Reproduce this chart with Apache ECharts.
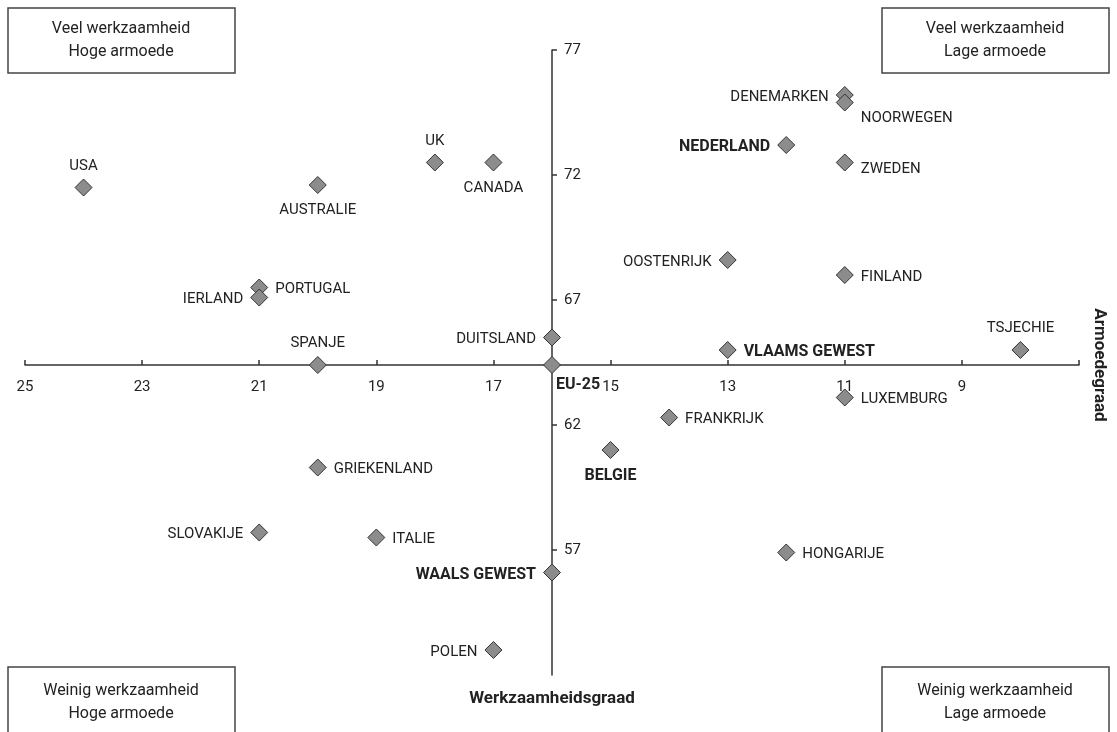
<!DOCTYPE html>
<html>
<head>
<meta charset="utf-8">
<script src="https://cdn.jsdelivr.net/npm/echarts@6/dist/echarts.min.js"></script>
<style>
  html, body { margin: 0; padding: 0; background: #fff; }
  #chart { width: 1117px; height: 732px; }
</style>
</head>
<body>
<div id="chart"></div>
<script>
// landen / regio's met armoedegraad (x) en werkzaamheidsgraad (y)
var countries = ['USA', 'AUSTRALIE', 'UK', 'CANADA', 'PORTUGAL', 'IERLAND', 'SPANJE', 'DUITSLAND',
  'EU-25', 'GRIEKENLAND', 'SLOVAKIJE', 'ITALIE', 'WAALS GEWEST', 'POLEN', 'DENEMARKEN', 'NOORWEGEN',
  'NEDERLAND', 'ZWEDEN', 'OOSTENRIJK', 'FINLAND', 'TSJECHIE', 'VLAAMS GEWEST', 'LUXEMBURG',
  'FRANKRIJK', 'BELGIE', 'HONGARIJE'];
var poverty = [24, 20, 18, 17, 21, 21, 20, 16,
  16, 20, 21, 19, 16, 17, 11, 11,
  12, 11, 13, 11, 8, 13, 11,
  14, 15, 12];
var employment = [71.5, 71.6, 72.5, 72.5, 67.5, 67.1, 64.4, 65.5,
  64.4, 60.3, 57.7, 57.5, 56.1, 53.0, 75.2, 74.9,
  73.2, 72.5, 68.6, 68.0, 65.0, 65.0, 63.1,
  62.3, 61.0, 56.9];
var highlighted = ['NEDERLAND', 'VLAAMS GEWEST', 'EU-25', 'BELGIE', 'WAALS GEWEST'];

var xTicks = [25, 23, 21, 19, 17, 15, 13, 11, 9, 7];
var xLabels = [25, 23, 21, 19, 17, 15, 13, 11, 9];
var yTicks = [57, 62, 67, 72, 77];

// waar het label naast het punt staat (standaard rechts)
var labelSide = {
  'USA': 'top', 'UK': 'top', 'SPANJE': 'top', 'TSJECHIE': 'top',
  'AUSTRALIE': 'bottom', 'CANADA': 'bottom', 'BELGIE': 'bottom', 'EU-25': 'bottom',
  'IERLAND': 'left', 'DUITSLAND': 'left', 'SLOVAKIJE': 'left', 'WAALS GEWEST': 'left',
  'POLEN': 'left', 'DENEMARKEN': 'left', 'NEDERLAND': 'left', 'OOSTENRIJK': 'left'
};
var labelShift = { 'NOORWEGEN': [0, 16], 'ZWEDEN': [0, 7], 'EU-25': [26, -4] };

var FONT = 'Roboto, sans-serif';

// grid geometrie
var W = 1117, H = 732;
var gLeft = 25, gRight = 38, gTop = 50, gBottom = 57;
var xMin = 7, xMax = 25, yMin = 52, yMax = 77;
var crossX = 16, crossY = 64.4;
var gW = W - gLeft - gRight, gH = H - gTop - gBottom;

var points = countries.map(function (name, i) {
  var bold = highlighted.indexOf(name) >= 0;
  return {
    name: name,
    value: [poverty[i], employment[i]],
    label: {
      position: labelSide[name] || 'right',
      offset: labelShift[name] || [0, 2],
      fontWeight: bold ? 'bold' : 'normal',
      fontSize: bold ? 16 : 15
    }
  };
});

function box(x, y, h, text, ty) {
  return [
    { type: 'rect', shape: { x: x, y: y, width: 227, height: h },
      style: { fill: '#fff', stroke: '#444', lineWidth: 1.5 } },
    { type: 'text', x: x + 113, y: ty,
      style: { text: text, font: '16px ' + FONT, fill: '#222', align: 'center',
        verticalAlign: 'middle', lineHeight: 23 } }
  ];
}

var chart = echarts.init(document.getElementById('chart'));
var option = {
  animation: false,
  grid: { left: gLeft, right: gRight, top: gTop, bottom: gBottom, outerBoundsMode: 'none' },
  xAxis: {
    type: 'value', min: xMin, max: xMax, inverse: true,
    position: 'bottom',
    offset: -gH * (crossY - yMin) / (yMax - yMin),
    name: 'Armoedegraad', nameLocation: 'start', nameRotate: -90, nameGap: 12,
    nameTextStyle: { fontFamily: FONT, fontWeight: 'bold', fontSize: 17, color: '#222' },
    axisLine: { onZero: false, lineStyle: { color: '#333', width: 1.5 } },
    axisTick: { inside: true, length: 5, customValues: xTicks, lineStyle: { color: '#333', width: 1.5 } },
    axisLabel: { customValues: xLabels, margin: 15, fontFamily: FONT, fontSize: 15, color: '#222' },
    splitLine: { show: false }
  },
  yAxis: {
    type: 'value', min: yMin, max: yMax,
    position: 'left',
    offset: -gW * (xMax - crossX) / (xMax - xMin),
    name: 'Werkzaamheidsgraad', nameLocation: 'start', nameGap: 15,
    nameTextStyle: { fontFamily: FONT, fontWeight: 'bold', fontSize: 17, color: '#222' },
    axisLine: { onZero: false, lineStyle: { color: '#333', width: 1.5 } },
    axisTick: { inside: true, length: 5, customValues: yTicks, lineStyle: { color: '#333', width: 1.5 } },
    axisLabel: { inside: true, customValues: yTicks, margin: 12, fontFamily: FONT, fontSize: 15, color: '#222' },
    splitLine: { show: false }
  },
  graphic: [].concat(
    box(8, 8, 65, 'Veel werkzaamheid\nHoge armoede', 40),
    box(882, 8, 65, 'Veel werkzaamheid\nLage armoede', 40),
    box(8, 667, 80, 'Weinig werkzaamheid\nHoge armoede', 702),
    box(882, 667, 80, 'Weinig werkzaamheid\nLage armoede', 702)
  ),
  series: [{
    type: 'scatter',
    symbol: 'diamond',
    symbolSize: 17,
    itemStyle: { color: '#8c8c8c', borderColor: '#333', borderWidth: 1, opacity: 1 },
    label: {
      show: true, formatter: '{b}', distance: 7,
      fontFamily: FONT, fontSize: 15, color: '#222'
    },
    emphasis: { disabled: true },
    data: points
  }]
};
chart.setOption(option);
</script>
</body>
</html>
